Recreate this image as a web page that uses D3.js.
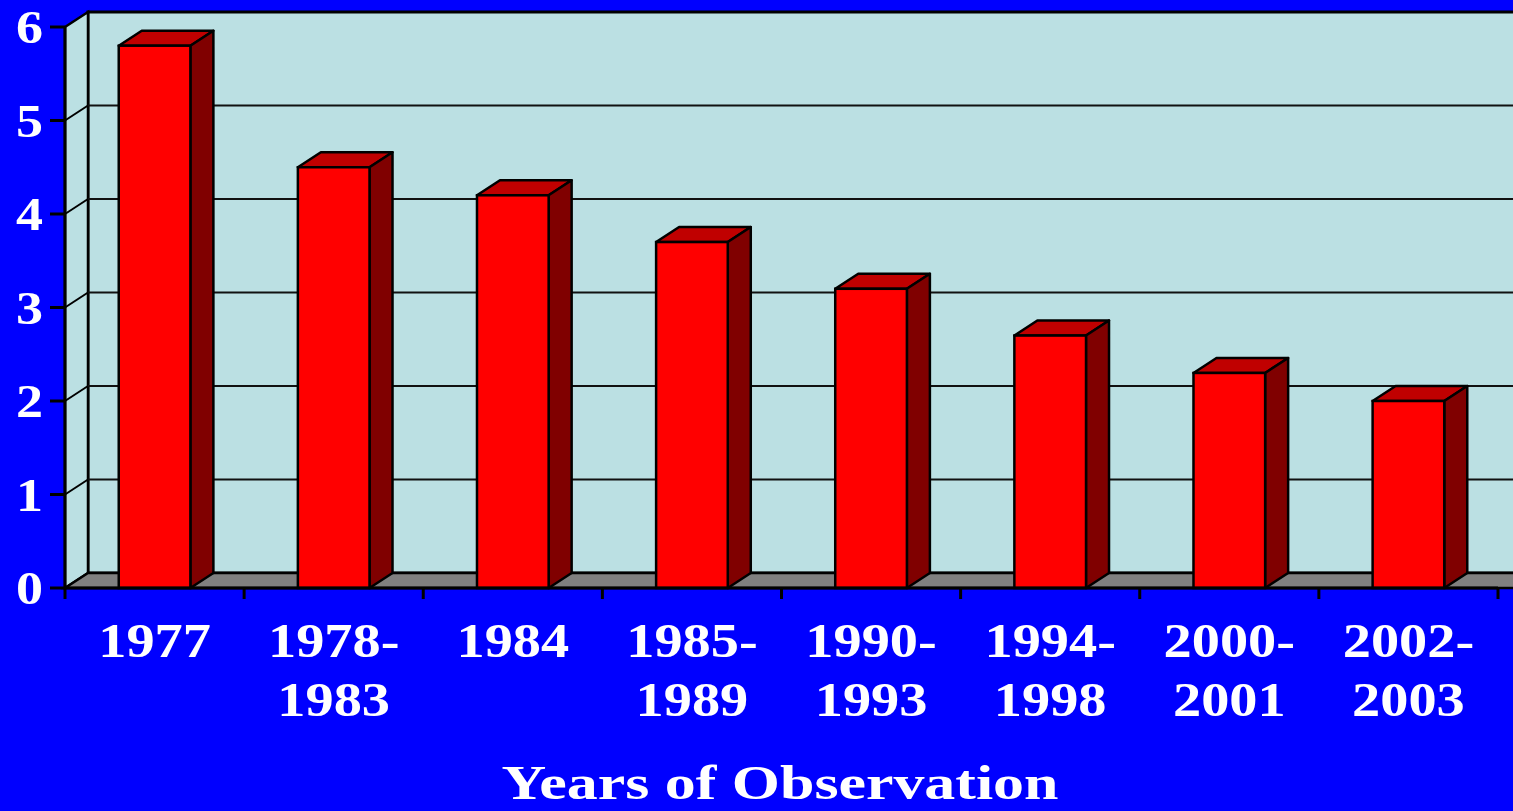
<!DOCTYPE html>
<html>
<head>
<meta charset="utf-8">
<script src="https://cdn.jsdelivr.net/npm/d3@7"></script>
<style>
  html, body { margin: 0; padding: 0; background: #0000ff; overflow: hidden; }
  text { font-family: "Liberation Serif", "Times New Roman", serif; font-weight: bold; fill: #fff; }
</style>
</head>
<body>
<svg id="chart" width="1513" height="811"></svg>
<script>
// data
let periods = ['1977', '1978-1983', '1984', '1985-1989', '1990-1993', '1994-1998', '2000-2001', '2002-2003'];
let labelLines = [['1977'], ['1978-', '1983'], ['1984'], ['1985-', '1989'], ['1990-', '1993'], ['1994-', '1998'], ['2000-', '2001'], ['2002-', '2003']];
let values = [5.8, 4.5, 4.2, 3.7, 3.2, 2.7, 2.3, 2.0];
let yTicks = [0, 1, 2, 3, 4, 5, 6];
let axisTitle = 'Years of Observation';

var W = 1513, H = 811;
var plotLeft = 65, plotRight = 1498, plotBottom = 588, plotTop = 27;
var dx = 23, dy = -15; // 3d depth offset
var stretch = 1.15;

var svg = d3.select('#chart');

var x = d3.scaleBand().domain(periods).range([plotLeft, plotRight]).paddingInner(0.6).paddingOuter(0.3);
var y = d3.scaleLinear().domain([0, 6]).range([plotBottom, plotTop]);
var step = x.step();
var edge = function(i) { return plotLeft + i * step; };

function pts(arr) { return arr.map(p => p.join(',')).join(' '); }

// back wall
svg.append('rect')
    .attr('x', plotLeft + dx).attr('y', y(6) + dy)
    .attr('width', W + 40 - (plotLeft + dx)).attr('height', y(0) - y(6))
    .attr('fill', '#bbe0e3').attr('stroke', '#000').attr('stroke-width', 3);

// side wall
svg.append('polygon')
    .attr('points', pts([[plotLeft, y(6)], [plotLeft + dx, y(6) + dy], [plotLeft + dx, y(0) + dy], [plotLeft, y(0)]]))
    .attr('fill', '#bbe0e3').attr('stroke', '#000').attr('stroke-width', 2.5);

// floor
svg.append('polygon')
    .attr('points', pts([[plotLeft, y(0)], [plotLeft + dx, y(0) + dy], [W + 40, y(0) + dy], [plotRight + 40, y(0)]]))
    .attr('fill', '#808080').attr('stroke', '#000').attr('stroke-width', 2.5);

// gridlines
var inner = yTicks.filter(t => t > 0 && t < 6);
var grid = svg.append('g').attr('class', 'grid');
grid.selectAll('line.back').data(inner).enter().append('line')
    .attr('class', 'back')
    .attr('x1', plotLeft + dx).attr('x2', W + 40)
    .attr('y1', d => y(d) + dy).attr('y2', d => y(d) + dy)
    .attr('stroke', '#111').attr('stroke-width', 2);
grid.selectAll('line.side').data(inner).enter().append('line')
    .attr('class', 'side')
    .attr('x1', plotLeft).attr('x2', plotLeft + dx)
    .attr('y1', d => y(d)).attr('y2', d => y(d) + dy)
    .attr('stroke', '#000').attr('stroke-width', 2);

// bars
var bars = svg.append('g').selectAll('g').data(periods).enter().append('g');
bars.append('polygon') // top
    .attr('points', (d, i) => {
        var x0 = x(d), x1 = x(d) + x.bandwidth(), yt = y(values[i]);
        return pts([[x0, yt], [x0 + dx, yt + dy], [x1 + dx, yt + dy], [x1, yt]]);
    })
    .attr('fill', '#c00000').attr('stroke', '#000').attr('stroke-width', 2.5).attr('stroke-linejoin', 'round');
bars.append('polygon') // side
    .attr('points', (d, i) => {
        var x1 = x(d) + x.bandwidth(), yt = y(values[i]);
        return pts([[x1, yt], [x1 + dx, yt + dy], [x1 + dx, y(0) + dy], [x1, y(0)]]);
    })
    .attr('fill', '#800000').attr('stroke', '#000').attr('stroke-width', 2.5).attr('stroke-linejoin', 'round');
bars.append('rect') // front
    .attr('x', d => x(d)).attr('y', (d, i) => y(values[i]))
    .attr('width', x.bandwidth()).attr('height', (d, i) => y(0) - y(values[i]))
    .attr('fill', '#ff0000').attr('stroke', '#000').attr('stroke-width', 2.5);

// axes lines
svg.append('line').attr('x1', plotLeft).attr('x2', plotLeft).attr('y1', y(6)).attr('y2', y(0))
    .attr('stroke', '#000').attr('stroke-width', 3);
svg.append('line').attr('x1', plotLeft).attr('x2', plotRight).attr('y1', y(0)).attr('y2', y(0))
    .attr('stroke', '#000').attr('stroke-width', 3);
svg.selectAll('line.ytick').data(yTicks).enter().append('line')
    .attr('class', 'ytick')
    .attr('x1', plotLeft - 15).attr('x2', plotLeft).attr('y1', d => y(d)).attr('y2', d => y(d))
    .attr('stroke', '#000').attr('stroke-width', 3);
svg.selectAll('line.xtick').data(d3.range(periods.length + 1)).enter().append('line')
    .attr('class', 'xtick')
    .attr('x1', edge).attr('x2', edge).attr('y1', y(0)).attr('y2', y(0) + 11)
    .attr('stroke', '#000').attr('stroke-width', 3);

// y tick labels
svg.selectAll('g.ylab').data(yTicks).enter().append('g')
    .attr('class', 'ylab')
    .attr('transform', d => 'translate(43,' + (y(d) + 16) + ') scale(' + stretch + ',1)')
    .append('text').attr('text-anchor', 'end').style('font-size', '47px')
    .text(d => d);

// category labels
var cat = svg.selectAll('g.xlab').data(periods).enter().append('g')
    .attr('class', 'xlab')
    .attr('transform', d => 'translate(' + (x(d) + x.bandwidth() / 2) + ',0) scale(' + stretch + ',1)');
cat.each(function(d, i) {
    d3.select(this).selectAll('text').data(labelLines[i]).enter().append('text')
        .attr('text-anchor', 'middle')
        .attr('y', (t, j) => 657 + j * 59)
        .style('font-size', '49px')
        .text(t => t);
});

// axis title
svg.append('g')
    .attr('transform', 'translate(780,799) scale(1.29,1)')
    .append('text').attr('text-anchor', 'middle').style('font-size', '48px')
    .text(axisTitle);
</script>
</body>
</html>
